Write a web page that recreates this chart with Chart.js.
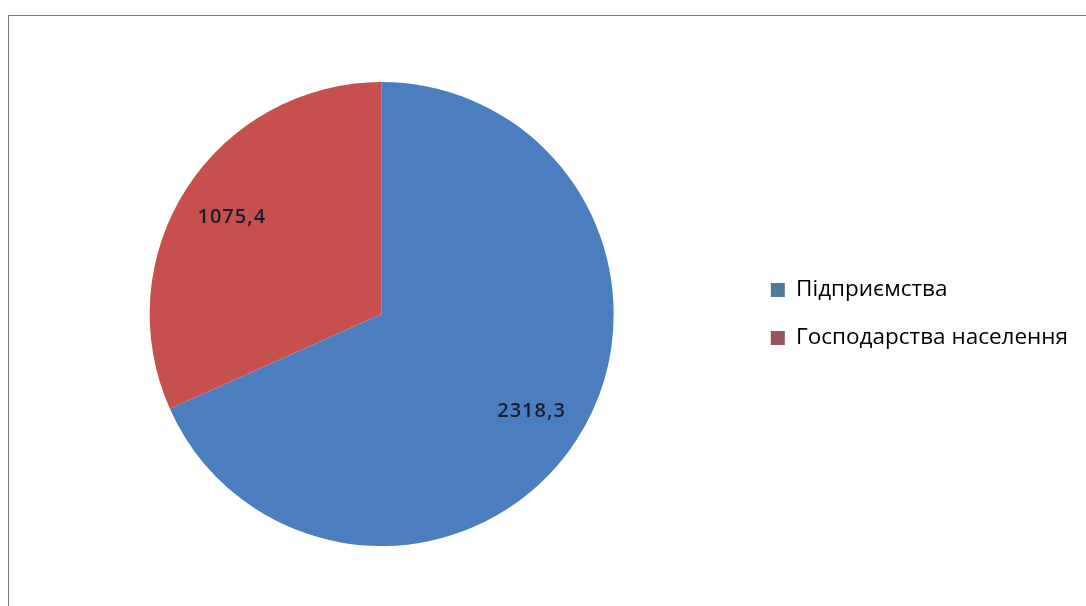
<!DOCTYPE html>
<html>
<head>
<meta charset="utf-8">
<script src="https://cdn.jsdelivr.net/npm/chart.js@4.4.1/dist/chart.umd.min.js"></script>
<style>
  html, body { margin: 0; padding: 0; background: #fff; }
  #wrap { position: relative; width: 1086px; height: 606px; overflow: hidden; }
  #frame { position: absolute; left: 8px; top: 15px; right: -2px; bottom: -2px;
           border-left: 1.5px solid #777; border-top: 1.5px solid #777; }
  canvas { position: absolute; left: 0; top: 0; }
</style>
</head>
<body>
<div id="wrap">
  <div id="frame"></div>
  <canvas id="pie" width="1078" height="606"></canvas>
</div>
<script>
// Виробництво: підприємства vs господарства населення
const categories = ["Підприємства", "Господарства населення"];
const values = [2318.3, 1075.4];
const sliceColors = ["#4a7ebf", "#c6504e"];
const legendColors = ["#55799b", "#94535d"];

// підписи значень всередині секторів
const sliceLabels = {
  id: 'sliceLabels',
  afterDatasetsDraw(chart) {
    const ctx = chart.ctx;
    const meta = chart.getDatasetMeta(0);
    ctx.save();
    ctx.font = '600 20px "Open Sans", sans-serif';
    ctx.letterSpacing = '1px';
    ctx.fillStyle = '#1b1d2e';
    ctx.textAlign = 'center';
    ctx.textBaseline = 'middle';
    meta.data.forEach((arc, i) => {
      const p = arc.getProps(['x', 'y', 'startAngle', 'endAngle', 'outerRadius'], true);
      const mid = (p.startAngle + p.endAngle) / 2;
      const r = p.outerRadius * 0.77;
      const txt = values[i].toFixed(1).replace('.', ',');
      ctx.fillText(txt, p.x + Math.cos(mid) * r, p.y + Math.sin(mid) * r);
    });
    ctx.restore();
  }
};

new Chart(document.getElementById("pie"), {
  type: 'pie',
  data: {
    labels: categories,
    datasets: [{
      data: values,
      backgroundColor: sliceColors,
      borderWidth: 0
    }]
  },
  options: {
    responsive: false,
    animation: false,
    layout: { padding: { top: 82, bottom: 60, left: 18, right: 0 } },
    plugins: {
      tooltip: { enabled: false },
      legend: {
        position: 'right',
        labels: {
          color: '#111',
          font: { family: '"Open Sans", sans-serif', size: 22.5 },
          boxWidth: 14,
          boxHeight: 14,
          padding: 25.5,
          generateLabels(chart) {
            return categories.map((c, i) => ({
              text: c,
              fillStyle: legendColors[i],
              strokeStyle: legendColors[i],
              lineWidth: 0,
              index: i
            }));
          }
        }
      }
    }
  },
  plugins: [sliceLabels]
});
</script>
</body>
</html>
